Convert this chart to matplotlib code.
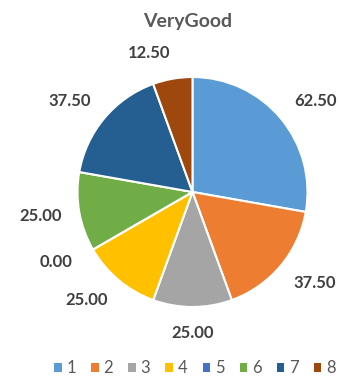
import numpy as np
import matplotlib
matplotlib.use("Agg")
import matplotlib.pyplot as plt
from matplotlib.patches import Patch

# data
categories = ['1', '2', '3', '4', '5', '6', '7', '8']
values = [62.5, 37.5, 25.0, 25.0, 0.0, 25.0, 37.5, 12.5]
colors = ['#5B9BD5', '#ED7D31', '#A5A5A5', '#FFC000', '#4472C4', '#70AD47', '#255E91', '#9E480E']
title = 'VeryGood'

plt.rcParams['font.family'] = ['Lato', 'DejaVu Sans']

fig = plt.figure(figsize=(3.39, 3.77), dpi=100)
W, H = 339, 377
cx, cy, r = 192.5, 192, 115
ax = fig.add_axes([(cx - r) / W, (H - cy - r) / H, 2 * r / W, 2 * r / H])

wedges, _ = ax.pie(values, colors=colors, startangle=90, counterclock=False,
                   radius=1, wedgeprops=dict(edgecolor='white', linewidth=1.5))
ax.set_xlim(-1, 1)
ax.set_ylim(-1, 1)
ax.axis('off')

# data labels, outside end
total = sum(values)
start = 90.0
for v in values:
    ang = start - v / total * 360 / 2
    start -= v / total * 360
    t = np.deg2rad(ang)
    c, s = np.cos(t), np.sin(t)
    dx = 0 if abs(c) < 0.1 else 20 * np.sign(c)
    dy = 7 * s
    ax.annotate('%.2f' % v, xy=(1.165 * c, 1.165 * s), xytext=(dx * 0.72, dy * 0.72),
                textcoords='offset points', ha='center', va='center',
                fontsize=12, fontweight='bold', color='#404040', annotation_clip=False)

fig.text(188 / W, 1 - 22 / H, title, ha='center', va='center', fontsize=14,
         fontweight='bold', color='#595959')

handles = [Patch(facecolor=col, edgecolor='none') for col in colors]
fig.legend(handles, categories, loc='center', bbox_to_anchor=(195 / W, 1 - 368 / H),
           ncol=8, frameon=False, fontsize=12, handlelength=0.45, handleheight=0.45,
           handletextpad=0.3, columnspacing=0.9, labelcolor='#595959',
           borderpad=0, borderaxespad=0)

fig.savefig('out.png', dpi=100)
